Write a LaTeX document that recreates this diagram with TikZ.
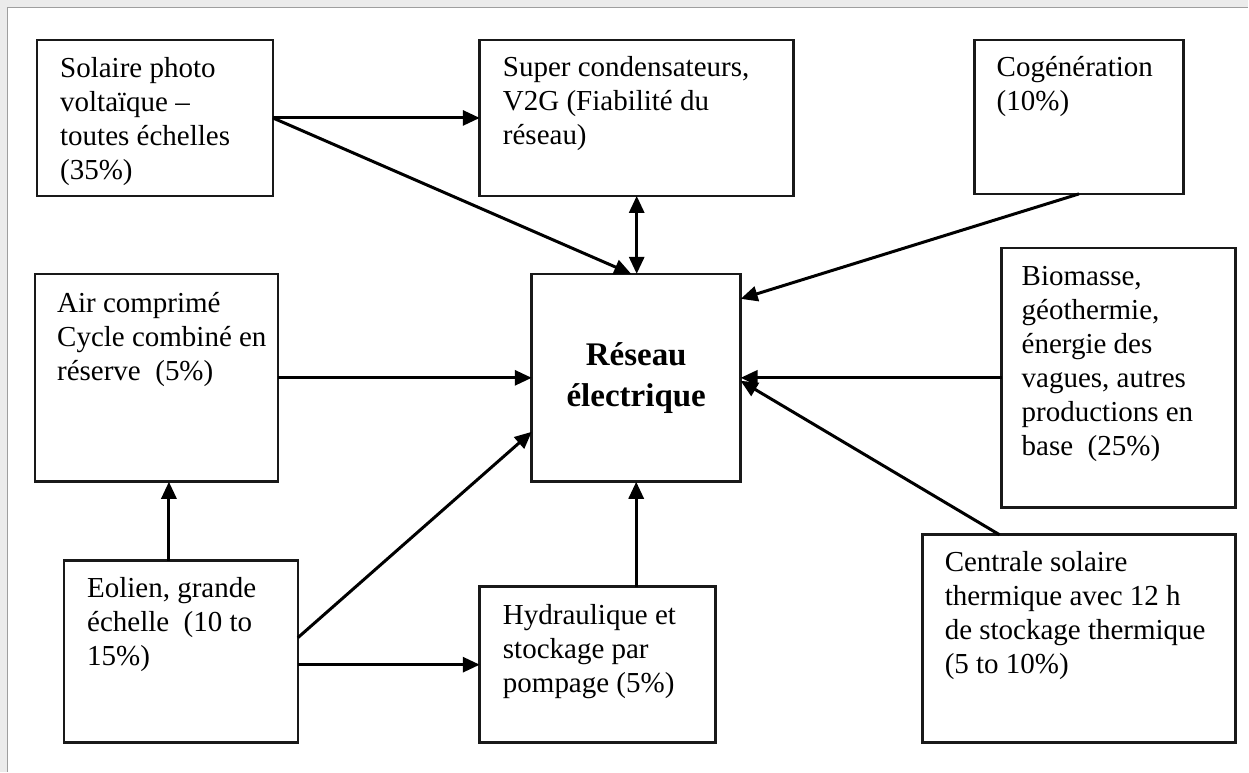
\documentclass[tikz,border=0pt]{standalone}
\usepackage{fontspec}
\setmainfont{Liberation Serif}
\usetikzlibrary{arrows.meta,calc}
\begin{document}
\begin{tikzpicture}[x=1pt,y=-1pt,
  box/.style={draw=black!90, line width=2.6pt, fill=white, inner sep=0pt, outer sep=0pt, anchor=north west},
  txt/.style={anchor=base west, inner sep=0pt, text=black, font=\fontsize{29}{34}\selectfont},
  arr/.style={draw=black, line width=3pt, -{Triangle[length=17pt,width=15pt]}},
  darr/.style={draw=black, line width=3pt, {Triangle[length=17pt,width=15pt]}-{Triangle[length=17pt,width=15pt]}}]
\newcommand{\tb}[1]{\parbox[t]{320pt}{\raggedright #1}}
% background frame
\fill[black!8] (0,0) rectangle (1249,772);
\fill[white] (7.5,7.5) rectangle (1249,772);
\draw[black!38, line width=1.2pt] (7.5,772) -- (7.5,7.5) -- (1249,7.5);
\useasboundingbox (0,0) rectangle (1249,772);
% boxes
\node[box, minimum width=236pt, minimum height=156pt] (pv)  at (37,40) {};
\node[box, minimum width=314pt, minimum height=156pt] (sc)  at (480,40) {};
\node[box, minimum width=209pt, minimum height=154pt] (cog) at (975,40) {};
\node[box, minimum width=234pt, minimum height=260pt] (bio) at (1002,248) {};
\node[box, minimum width=209pt, minimum height=208pt] (res) at (532,274) {};
\node[box, minimum width=243pt, minimum height=208pt] (air) at (35,274) {};
\node[box, minimum width=234pt, minimum height=182pt] (eol) at (64,561) {};
\node[box, minimum width=236pt, minimum height=156pt] (hyd) at (480,587) {};
\node[box, minimum width=313pt, minimum height=208pt] (cen) at (923,535) {};
% texts
\node[txt] (tpv)  at ([shift={(23,38)}]pv.north west)  {\tb{Solaire photo\\voltaïque –\\toutes échelles\\(35\%)}};
\node[txt] (tsc)  at ([shift={(23,37)}]sc.north west)  {\tb{Super condensateurs,\\V2G (Fiabilité du\\réseau)}};
\node[txt] (tcog) at ([shift={(22,37)}]cog.north west) {\tb{Cogénération\\(10\%)}};
\node[txt] (tbio) at ([shift={(20,38)}]bio.north west) {\tb{Biomasse,\\géothermie,\\énergie des\\vagues, autres\\productions en\\base~ (25\%)}};
\node[txt] (tair) at ([shift={(22,39)}]air.north west) {\tb{Air comprimé\\Cycle combiné en\\réserve~ (5\%)}};
\node[txt] (teol) at ([shift={(23,37)}]eol.north west) {\tb{Eolien, grande\\échelle~ (10 to\\15\%)}};
\node[txt] (thyd) at ([shift={(23,38)}]hyd.north west) {\tb{Hydraulique et\\stockage par\\pompage (5\%)}};
\node[txt] (tcen) at ([shift={(22,37)}]cen.north west) {\tb{Centrale solaire\\thermique avec 12 h\\de stockage thermique\\(5 to 10\%)}};
\node[inner sep=0pt, align=center, text=black, font=\bfseries\fontsize{33}{41}\selectfont] (tres) at (res.center) {Réseau\\électrique};
% connectors
\draw[arr] (pv.east) -- (sc.west);
\draw[arr] (pv.east) -- ([shift={(-5,0)}]res.north);
\draw[darr] (sc.south) -- (sc.south |- res.north);
\draw[arr] (cog.south) -- ([shift={(0,25)}]res.north east);
\draw[arr] (air.east) -- (res.west);
\draw[arr] (bio.west) -- (res.east);
\draw[arr] ([shift={(77,0)}]cen.north west) -- ([shift={(0,3)}]res.east);
\draw[arr] ([shift={(0,-14)}]eol.east) -- ([shift={(0,54)}]res.west);
\draw[arr] (eol.east |- hyd.west) -- (hyd.west);
\coordinate (ea) at ([shift={(-12,0)}]eol.north);
\draw[arr] (ea) -- (ea |- air.south);
\draw[arr] (hyd.north -| res.south) -- (res.south);
\end{tikzpicture}
\end{document}
